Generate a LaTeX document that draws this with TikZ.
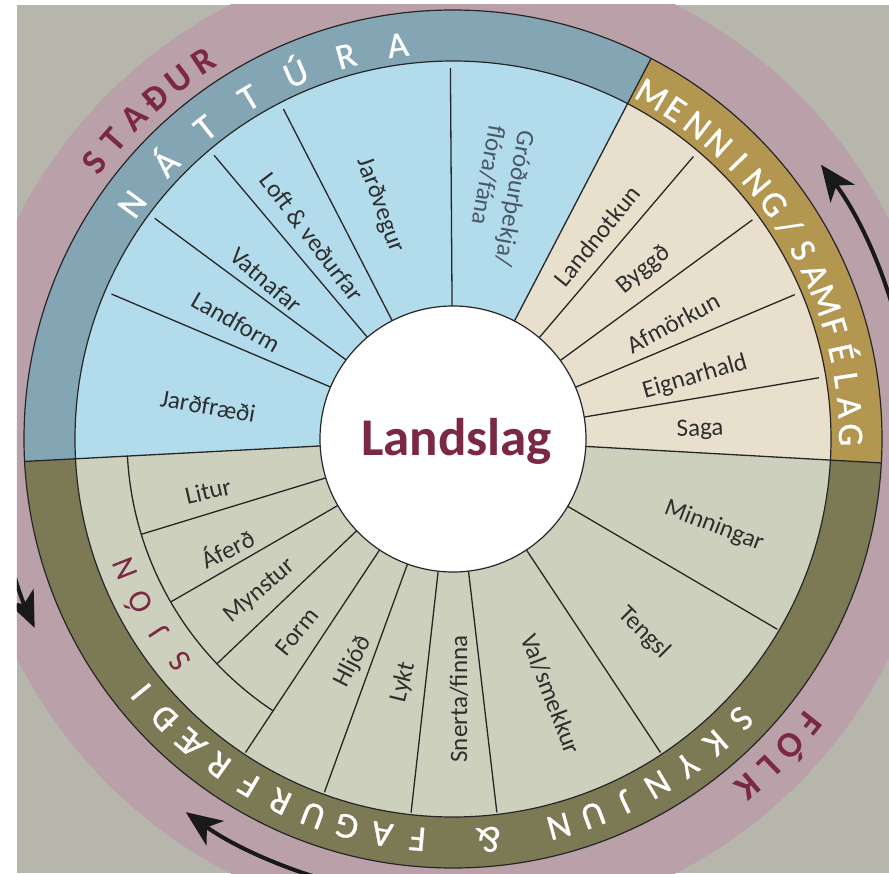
\documentclass[tikz,border=0pt]{standalone}
\usepackage{fontspec}
\setmainfont{Carlito}
\usetikzlibrary{arrows.meta}
\definecolor{bgc}{HTML}{B6B6AD}
\definecolor{pinkc}{HTML}{BAA0A8}
\definecolor{bluering}{HTML}{84A5B4}
\definecolor{bluein}{HTML}{B2DBEC}
\definecolor{goldring}{HTML}{B39650}
\definecolor{creamin}{HTML}{E8E0CD}
\definecolor{olivering}{HTML}{7C7A55}
\definecolor{olivein}{HTML}{CDD0BD}
\definecolor{maroon}{HTML}{7A2846}
\definecolor{labc}{HTML}{2E2E2E}
\definecolor{slatec}{HTML}{4A5866}
\definecolor{linec}{HTML}{262626}
\newlength\chw
% #1 baseline radius, #2 first char centre angle, #3 last char centre angle,
% #4 font, #5 colour, #6 char list, #7 name prefix
\newcommand\arctext[7]{%
  \gdef\atW{0}\gdef\atN{0}%
  \foreach \c [count=\i] in {#6}{%
    \settowidth\chw{#4\c}%
    \pgfmathsetmacro\tmp{\atW+\chw/1pt}\xdef\atW{\tmp}%
    \xdef\atN{\i}%
    \ifnum\i=1 \pgfmathsetmacro\tmp{\chw/1pt}\xdef\atF{\tmp}\fi
    \pgfmathsetmacro\tmp{\chw/1pt}\xdef\atL{\tmp}%
  }%
  \pgfmathsetmacro\tmp{((#2-#3)*pi/180*#1-(\atW-\atF/2-\atL/2))/(\atN-1)}\xdef\atT{\tmp}%
  \pgfmathsetmacro\tmp{#2+(\atF/2)/#1*180/pi}\xdef\atCur{\tmp}%
  \foreach \c [count=\i] in {#6}{%
    \settowidth\chw{#4\c}%
    \pgfmathsetmacro\atw{\chw/1pt}%
    \pgfmathsetmacro\atA{\atCur-(\atw/2)/#1*180/pi}%
    \pgfmathsetmacro\atR{\atA-90}%
    \node[name=#7\i,text=#5,font=#4,inner sep=0pt,anchor=base,rotate=\atR] at (\atA:#1) {\c};
    \pgfmathsetmacro\tmp{\atCur-(\atw+\atT)/#1*180/pi}\xdef\atCur{\tmp}%
  }%
}
\newcommand\sectorfill[5]{% colour, a1, a2, r1, r2
  \fill[#1] (#2:#4) arc[start angle=#2, end angle=#3, radius=#4] -- (#3:#5)
    arc[start angle=#3, end angle=#2, radius=#5] -- cycle;}
\newcommand\ringfont{\fontsize{36}{40}\selectfont\addfontfeature{FakeBold=0.8}}
\newcommand\ringfontb{\fontsize{36}{40}\selectfont\bfseries}
\tikzset{
  lab/.style={font=\fontsize{25}{30}\selectfont, text=labc, inner sep=0pt},
  spoke/.style={draw=linec, line width=1.3pt},
  ringline/.style={draw=linec, line width=1.2pt},
  cyclearrow/.style={draw=black!90, line width=4pt, -{Stealth[length=36pt,width=30pt,inset=10pt]}}
}
\begin{document}
\begin{tikzpicture}[x=1pt,y=1pt]
\useasboundingbox (-453,-434) rectangle (436,439);
\fill[white] (-453,-434) rectangle (436,439);
\begin{scope}
\clip (-436,-434) rectangle (436,434);
\fill[bgc] (-436,-434) rectangle (436,434);
\fill[pinkc] (0,0) circle[radius=488];
% sectors
\sectorfill{bluering}{62.5}{183}{378}{429}
\sectorfill{bluein}{62.5}{183}{133}{378}
\sectorfill{goldring}{-3.2}{62.5}{378}{429}
\sectorfill{creamin}{-3.2}{62.5}{133}{378}
\sectorfill{olivering}{183}{356.8}{378}{429}
\sectorfill{olivein}{183}{356.8}{133}{378}
% ring outlines
\draw[ringline] (0,0) circle[radius=429];
\draw[ringline] (0,0) circle[radius=378];
% main boundaries
\foreach \a in {183,62.5,-3.2} \draw[spoke] (\a:133) -- (\a:429);
% Natura and Menning spokes
\foreach \a in {157,143.5,130.1,117.2,90.4,49.6,36.2,22.9,9.5} \draw[spoke] (\a:133) -- (\a:371);
% Sjon
\draw[spoke] (183:326) arc[start angle=183, end angle=236.5, radius=326];
\foreach \a in {197,210,223.6} \draw[spoke] (\a:133) -- (\a:326);
\foreach \a in {236.5,250,263.6,276.7,303.5,329.6} \draw[spoke] (\a:133) -- (\a:376);
% centre
\node[name=centre, circle, fill=white, draw=linec, line width=1.2pt, minimum size=266pt, inner sep=0pt] at (0,0) {};
\node[name=landslag, anchor=base, inner sep=0pt, text=maroon, font=\fontsize{53}{60}\selectfont\bfseries] at (3.5,-16) {Landslag};
% arrows
\coordinate (ra1) at (12:459);
\coordinate (la1) at (190:459);
\coordinate (ba1) at (256:459);
\draw[cyclearrow] (ra1) arc[start angle=12, end angle=36.7, radius=459];
\draw[cyclearrow] (la1) arc[start angle=190, end angle=204.3, radius=459];
\draw[cyclearrow] (ba1) arc[start angle=256, end angle=234.4, radius=459];
% ring texts
\arctext{386}{143.8}{98}{\ringfont}{white}{N,Á,T,T,Ú,R,A}{nat}
\arctext{386}{60}{0.6}{\ringfont}{white}{M,E,N,N,I,N,G,/,S,A,M,F,É,L,A,G}{men}
\arctext{390}{315.9}{219}{\ringfont}{white}{S,K,Y,N,J,U,N,~,\&,~,F,A,G,U,R,F,R,Æ,Ð,I}{sky}
\arctext{441}{142.4}{123.5}{\ringfontb}{maroon}{S,T,A,Ð,U,R}{sta}
\arctext{444}{321.4}{310.3}{\ringfontb}{maroon}{F,Ó,L,K}{folk}
\arctext{342}{219.2}{201.6}{\fontsize{32}{36}\selectfont}{maroon}{S,J,Ó,N}{sjon}
% labels
\node[lab, name=l1, rotate=-10] at (-245,33) {Jarðfræði};
\node[lab, name=l2, rotate=-30] at (-217,117) {Landform};
\node[lab, name=l3, rotate=-41] at (-187,159) {Vatnafar};
\node[lab, name=l4, rotate=-53] at (-141,202) {Loft \& veðurfar};
\node[lab, name=l5, rotate=-70] at (-73,234) {Jarðvegur};
\node[lab, name=l6, rotate=-100, align=left, text=slatec] at (47,243) {Gróðurþekja/\\flóra/fána};
\node[lab, name=l7, rotate=51] at (144,203) {Landnotkun};
\node[lab, name=l8, rotate=40] at (191,169) {Byggð};
\node[lab, name=l9, rotate=28] at (220,116) {Afmörkun};
\node[lab, name=l10, rotate=16] at (242,62) {Eignarhald};
\node[lab, name=l11, rotate=2] at (247,9) {Saga};
\node[lab, name=l12, rotate=13] at (-245,-52) {Litur};
\node[lab, name=l13, rotate=26] at (-226,-109) {Áferð};
\node[lab, name=l14, rotate=40] at (-193,-152) {Mynstur};
\node[lab, name=l15, rotate=51] at (-156,-193) {Form};
\node[lab, name=l16, rotate=63] at (-100,-223) {Hljóð};
\node[lab, name=l17, rotate=76] at (-50,-243) {Lykt};
\node[lab, name=l18, rotate=90] at (6,-260) {Snerta/finna};
\node[lab, name=l19, rotate=-69] at (98,-255) {Val/smekkur};
\node[lab, name=l20, rotate=-45] at (191,-194) {Tengsl};
\node[lab, name=l21, rotate=-21] at (261,-87) {Minningar};
\end{scope}
\end{tikzpicture}
\end{document}
